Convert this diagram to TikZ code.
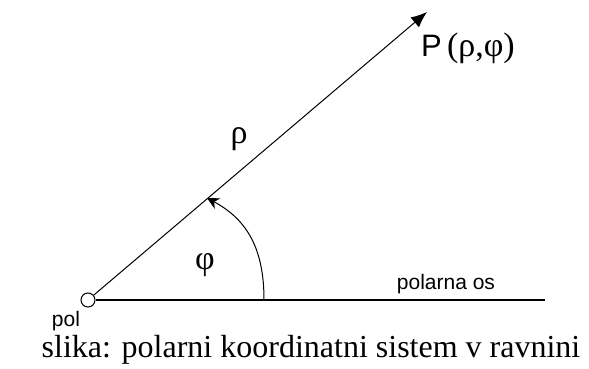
\documentclass[tikz,border=0pt]{standalone}
\usepackage{fontspec}
\setmainfont{Liberation Serif}
\setsansfont{Liberation Sans}
\usetikzlibrary{arrows.meta}
\tikzset{
  lbl/.style={font=\sffamily\fontsize{#1}{#1}\selectfont,inner sep=0pt,anchor=base},
  grk/.style={font=\rmfamily\fontsize{34}{34}\selectfont,inner sep=0pt}
}
\begin{document}
\begin{tikzpicture}[x=1pt,y=-1pt]
\useasboundingbox (0,0) rectangle (589,369);
\node[circle,draw,line width=1pt,minimum size=14pt,inner sep=0pt] (pole) at (88,300) {};
\coordinate (tip) at (427,12);
\coordinate (axisend) at (545,300);
\coordinate (arcstart) at (264,300);
\coordinate (arcend) at (207,198);

\draw[line width=1.3pt] (pole) -- (axisend);
\draw[line width=1pt,-{Latex[length=16pt,width=13pt]}] (pole) -- (tip);
\draw[line width=1pt,-{Stealth[length=12pt,width=12pt]}] (arcstart) .. controls (264,250) and (248,220) .. (arcend);

\node[lbl=31,anchor=base west] (plabel) at (421,57) {P\,\rmfamily\fontsize{34}{34}\selectfont(ρ,φ)};
\node[grk] (rho) at (239,139) {ρ};
\node[grk] (phi) at (205,265) {φ};
\node[lbl=21] (axislabel) at (446,289) {polarna os};
\node[lbl=21] (polelabel) at (66,326) {pol};
\node[inner sep=0pt,anchor=base,font=\fontsize{32}{32}\selectfont] (caption) at (311,357) {slika: polarni koordinatni sistem v ravnini};
\end{tikzpicture}
\end{document}
